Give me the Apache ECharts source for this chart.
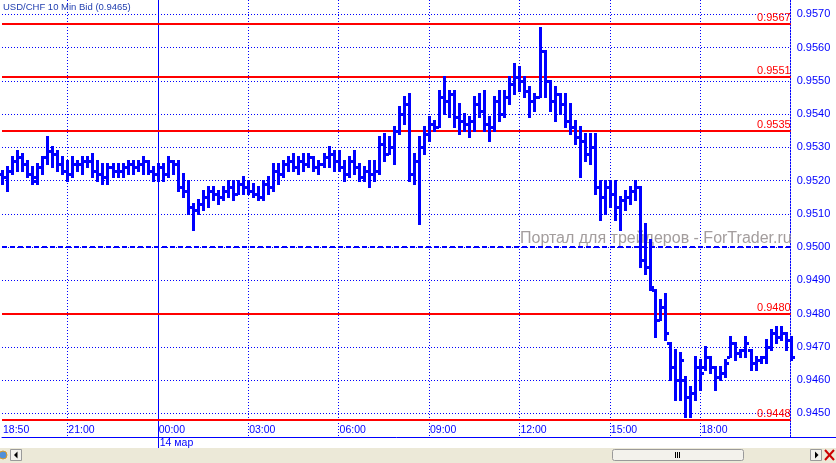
<!DOCTYPE html>
<html>
<head>
<meta charset="utf-8">
<script src="https://cdn.jsdelivr.net/npm/echarts@6.0.0/dist/echarts.min.js"></script>
<style>
html,body{margin:0;padding:0;background:#ffffff;}
#chart{width:836px;height:463px;}
</style>
</head>
<body>
<div id="chart"></div>
<script>
// ---------------- data ----------------
const titleText = 'USD/CHF 10 Min Bid (0.9465)';
const watermarkText = 'Портал для трейдеров - ForTrader.ru';

// 10-minute bars from 13 Mar 18:50 to 14 Mar 21:00
const barCount = 158;
const firstMinute = 18 * 60 + 50;
const firstDay = 13;
const categories = [];
for (let i = 0; i < barCount; i++) {
  const m = firstMinute + i * 10;
  const d = firstDay + Math.floor(m / 1440);
  const mm = m % 1440;
  categories.push(d + ' ' + String(Math.floor(mm / 60)).padStart(2, '0') + ':' + String(mm % 60).padStart(2, '0'));
}

// time tick labels (stamp -> label shown)
const timeTickStamps = ['13 18:50', '13 21:00', '14 00:00', '14 03:00', '14 06:00', '14 09:00', '14 12:00', '14 15:00', '14 18:00'];
const timeGridStamps = ['13 21:00', '14 03:00', '14 06:00', '14 09:00', '14 12:00', '14 15:00', '14 18:00', '14 21:00'];
const dayStamp = '14 00:00';
const dayLabel = '14 мар';

// price tick labels
const priceTicks = [0.9450, 0.9460, 0.9470, 0.9480, 0.9490, 0.9500, 0.9510, 0.9520, 0.9530, 0.9540, 0.9550, 0.9560, 0.9570];

// horizontal levels
const redLevels = [0.9567, 0.9551, 0.9535, 0.9480, 0.9448];
const dashedLevel = 0.9500;

// OHLC series
const openP = [
0.9522,0.9521,0.9523,0.9526,0.9527,0.9525,0.9522,0.9520,0.9524,0.9527,
0.9529,0.9528,0.9525,0.9523,0.9522,0.9525,0.9525,0.9526,0.9526,0.9523,
0.9522,0.9521,0.9524,0.9523,0.9523,0.9524,0.9525,0.9524,0.9525,0.9526,
0.9523,0.9522,0.9524,0.9522,0.9526,0.9525,0.9518,0.9517,0.9512,0.9511,
0.9513,0.9515,0.9517,0.9516,0.9515,0.9517,0.9518,0.9516,0.9519,0.9518,
0.9517,0.9516,0.9515,0.9519,0.9518,0.9523,0.9522,0.9525,0.9526,0.9524,
0.9526,0.9525,0.9527,0.9524,0.9525,0.9527,0.9528,0.9526,0.9524,0.9522,
0.9526,0.9524,0.9521,0.9523,0.9522,0.9523,0.9531,0.9528,0.9530,0.9535,
0.9540,0.9543,0.9522,0.9526,0.9530,0.9534,0.9537,0.9536,0.9545,0.9544,
0.9546,0.9539,0.9538,0.9537,0.9538,0.9543,0.9541,0.9537,0.9536,0.9544,
0.9540,0.9545,0.9549,0.9551,0.9550,0.9547,0.9544,0.9545,0.9559,0.9550,
0.9544,0.9546,0.9543,0.9538,0.9536,0.9533,0.9532,0.9528,0.9530,0.9518,
0.9515,0.9518,0.9516,0.9512,0.9514,0.9515,0.9517,0.9518,0.9496,0.9494,
0.9487,0.9478,0.9482,0.9471,0.9464,0.9460,0.9460,0.9455,0.9456,0.9464,
0.9464,0.9467,0.9464,0.9461,0.9462,0.9467,0.9471,0.9468,0.9469,0.9469,
0.9465,0.9466,0.9467,0.9470,0.9474,0.9473,0.9474,0.9472
];
const highP = [
0.9523,0.9524,0.9527,0.9529,0.9528,0.9526,0.9524,0.9525,0.9527,0.9533,
0.9530,0.9529,0.9527,0.9526,0.9527,0.9526,0.9527,0.9527,0.9528,0.9526,
0.9525,0.9525,0.9525,0.9525,0.9525,0.9526,0.9526,0.9526,0.9527,0.9526,
0.9524,0.9525,0.9525,0.9527,0.9526,0.9526,0.9522,0.9520,0.9513,0.9514,
0.9517,0.9518,0.9518,0.9517,0.9518,0.9520,0.9520,0.9520,0.9521,0.9520,
0.9519,0.9518,0.9520,0.9521,0.9525,0.9525,0.9526,0.9527,0.9528,0.9527,
0.9528,0.9528,0.9527,0.9526,0.9528,0.9530,0.9529,0.9529,0.9526,0.9527,
0.9529,0.9525,0.9524,0.9526,0.9526,0.9533,0.9534,0.9533,0.9536,0.9542,
0.9545,0.9546,0.9528,0.9533,0.9536,0.9539,0.9538,0.9547,0.9551,0.9547,
0.9547,0.9543,0.9540,0.9539,0.9545,0.9546,0.9547,0.9539,0.9545,0.9547,
0.9547,0.9551,0.9555,0.9554,0.9551,0.9548,0.9546,0.9566,0.9559,0.9550,
0.9548,0.9546,0.9546,0.9543,0.9538,0.9536,0.9534,0.9534,0.9534,0.9520,
0.9520,0.9520,0.9520,0.9515,0.9517,0.9518,0.9520,0.9518,0.9507,0.9502,
0.9487,0.9484,0.9486,0.9471,0.9469,0.9468,0.9461,0.9458,0.9467,0.9466,
0.9470,0.9467,0.9464,0.9464,0.9466,0.9473,0.9471,0.9469,0.9473,0.9469,
0.9467,0.9467,0.9472,0.9475,0.9476,0.9476,0.9474,0.9473
];
const lowP = [
0.9519,0.9517,0.9522,0.9523,0.9523,0.9521,0.9519,0.9519,0.9522,0.9525,
0.9524,0.9523,0.9522,0.9520,0.9521,0.9523,0.9522,0.9524,0.9521,0.9520,
0.9519,0.9519,0.9521,0.9521,0.9521,0.9522,0.9522,0.9523,0.9522,0.9522,
0.9520,0.9520,0.9520,0.9521,0.9522,0.9517,0.9515,0.9510,0.9505,0.9510,
0.9511,0.9512,0.9514,0.9513,0.9514,0.9515,0.9514,0.9516,0.9516,0.9516,
0.9515,0.9514,0.9514,0.9516,0.9517,0.9519,0.9521,0.9523,0.9523,0.9522,
0.9523,0.9524,0.9523,0.9522,0.9524,0.9524,0.9523,0.9523,0.9520,0.9521,
0.9522,0.9520,0.9520,0.9518,0.9520,0.9522,0.9526,0.9528,0.9525,0.9534,
0.9537,0.9520,0.9519,0.9507,0.9528,0.9532,0.9535,0.9536,0.9540,0.9539,
0.9536,0.9534,0.9535,0.9533,0.9535,0.9539,0.9535,0.9532,0.9535,0.9538,
0.9539,0.9543,0.9546,0.9547,0.9545,0.9539,0.9541,0.9545,0.9545,0.9541,
0.9538,0.9540,0.9536,0.9534,0.9531,0.9521,0.9526,0.9525,0.9516,0.9508,
0.9510,0.9512,0.9508,0.9505,0.9511,0.9513,0.9514,0.9494,0.9492,0.9487,
0.9473,0.9478,0.9472,0.9460,0.9454,0.9454,0.9449,0.9449,0.9454,0.9457,
0.9463,0.9462,0.9457,0.9460,0.9461,0.9467,0.9466,0.9467,0.9467,0.9463,
0.9463,0.9465,0.9465,0.9469,0.9471,0.9472,0.9469,0.9466
];
const closeP = [
0.9521,0.9523,0.9526,0.9527,0.9525,0.9522,0.9521,0.9524,0.9527,0.9529,
0.9528,0.9525,0.9523,0.9522,0.9525,0.9525,0.9526,0.9526,0.9523,0.9522,
0.9521,0.9524,0.9523,0.9523,0.9524,0.9525,0.9524,0.9525,0.9526,0.9523,
0.9522,0.9524,0.9522,0.9526,0.9525,0.9518,0.9517,0.9512,0.9511,0.9513,
0.9515,0.9517,0.9516,0.9515,0.9517,0.9518,0.9516,0.9519,0.9518,0.9517,
0.9516,0.9515,0.9519,0.9518,0.9523,0.9522,0.9525,0.9526,0.9524,0.9526,
0.9525,0.9527,0.9524,0.9525,0.9527,0.9528,0.9526,0.9524,0.9522,0.9526,
0.9524,0.9521,0.9523,0.9522,0.9523,0.9531,0.9528,0.9530,0.9535,0.9540,
0.9543,0.9522,0.9526,0.9530,0.9534,0.9537,0.9536,0.9545,0.9544,0.9546,
0.9539,0.9538,0.9537,0.9538,0.9543,0.9541,0.9537,0.9536,0.9544,0.9540,
0.9545,0.9549,0.9551,0.9550,0.9547,0.9544,0.9545,0.9559,0.9550,0.9544,
0.9546,0.9543,0.9538,0.9536,0.9533,0.9532,0.9528,0.9530,0.9518,0.9515,
0.9518,0.9516,0.9512,0.9514,0.9515,0.9517,0.9518,0.9496,0.9494,0.9488,
0.9478,0.9482,0.9474,0.9464,0.9460,0.9466,0.9455,0.9456,0.9464,0.9462,
0.9467,0.9464,0.9461,0.9462,0.9465,0.9471,0.9468,0.9469,0.9471,0.9465,
0.9466,0.9467,0.9470,0.9474,0.9473,0.9474,0.9472,0.9467
];

// ---------------- chart ----------------
const FONT = 'Liberation Sans';
const BLUE = '#0000ff';
const RED = '#ff0000';
const Y_MIN = 0.944287;
const Y_MAX = 0.957430;

const labelSet = new Set(timeTickStamps);
const gridSet = new Set(timeGridStamps);
const dayIndex = categories.indexOf(dayStamp);
const ohlc = categories.map((c, i) => [i, openP[i], highP[i], lowP[i], closeP[i]]);

function renderBar(params, api) {
  const idx = api.value(0);
  const o = api.coord([idx, api.value(1)]);
  const h = api.coord([idx, api.value(2)]);
  const l = api.coord([idx, api.value(3)]);
  const c = api.coord([idx, api.value(4)]);
  const x = Math.round(o[0]);
  const yh = Math.round(h[1]), yl = Math.round(l[1]);
  const yo = Math.round(o[1]), yc = Math.round(c[1]);
  const st = { fill: BLUE };
  return {
    type: 'group',
    children: [
      { type: 'rect', shape: { x: x - 1, y: yh - 1, width: 3, height: yl - yh + 2 }, style: st },
      { type: 'rect', shape: { x: x - 3, y: yo - 1, width: 3, height: 3 }, style: st },
      { type: 'rect', shape: { x: x + 1, y: yc - 1, width: 3, height: 3 }, style: st }
    ]
  };
}

function renderLevel(params, api) {
  const cs = params.coordSys;
  const v = api.value(1);
  const y = Math.round(api.coord([0, v])[1]);
  const x2 = cs.x + cs.width;
  return {
    type: 'group',
    children: [
      { type: 'rect', shape: { x: cs.x, y: y - 1, width: cs.width, height: 2 }, style: { fill: RED } },
      { type: 'text', x: x2, y: y - 1,
        style: { text: v.toFixed(4), fill: RED, font: '11px "Liberation Sans"', align: 'right', verticalAlign: 'bottom' } }
    ]
  };
}

function renderDashed(params, api) {
  const cs = params.coordSys;
  const y = Math.round(api.coord([0, api.value(1)])[1]);
  return {
    type: 'line',
    shape: { x1: cs.x, y1: y, x2: cs.x + cs.width, y2: y },
    style: { stroke: BLUE, lineWidth: 2, lineDash: [5, 3] }
  };
}

function renderDayLine(params, api) {
  const cs = params.coordSys;
  const x = Math.round(api.coord([api.value(0), Y_MIN])[0]);
  return {
    type: 'rect',
    shape: { x: x, y: cs.y, width: 1, height: cs.height + 11 },
    style: { fill: BLUE }
  };
}

const chart = echarts.init(document.getElementById('chart'), null, { renderer: 'canvas' });
chart.setOption({
  animation: false,
  backgroundColor: '#ffffff',
  textStyle: { fontFamily: FONT },
  title: {
    text: titleText, left: 3, top: 2, padding: 0,
    textStyle: { fontSize: 9.5, fontWeight: 'normal', color: '#2340b0', fontFamily: FONT }
  },
  grid: { left: -2.5, right: 45.3, top: 0, height: 437, containLabel: false },
  xAxis: [{
    type: 'category', data: categories, boundaryGap: false, position: 'bottom',
    axisLine: { show: true, lineStyle: { color: BLUE, width: 1 } },
    axisTick: { show: false },
    axisLabel: {
      inside: true, margin: 1, align: 'left', padding: [0, 0, 0, 1],
      color: BLUE, fontSize: 10.5, fontFamily: FONT,
      interval: (i, v) => labelSet.has(v),
      formatter: v => v.split(' ')[1]
    },
    splitLine: { show: true, interval: (i, v) => gridSet.has(v), lineStyle: { color: BLUE, width: 1, type: [1, 2] } }
  }, {
    type: 'category', data: categories, boundaryGap: false, position: 'bottom',
    axisLine: { show: false },
    axisTick: { show: false },
    axisLabel: {
      show: true, margin: 1, align: 'left', padding: [0, 0, 0, 2],
      color: BLUE, fontSize: 10.5, fontFamily: FONT,
      interval: (i, v) => v === dayStamp,
      formatter: () => dayLabel
    },
    splitLine: { show: false }
  }],
  yAxis: {
    type: 'value', position: 'right', min: Y_MIN, max: Y_MAX,
    axisLine: { show: true, lineStyle: { color: BLUE, width: 1, type: [1, 2] } },
    axisTick: { show: false, customValues: priceTicks },
    axisLabel: {
      customValues: priceTicks, formatter: v => v.toFixed(4),
      color: BLUE, fontSize: 11, fontFamily: FONT, margin: 6
    },
    splitLine: { show: true, lineStyle: { color: BLUE, width: 1, type: [1, 2] } }
  },
  graphic: [
    { type: 'text', left: 520, top: 231, z: 1, silent: true,
      style: { text: watermarkText, fill: '#a39d9d', font: '16px "Liberation Sans"' } },
    { type: 'line', silent: true, shape: { x1: 790, y1: 437.5, x2: 836, y2: 437.5 }, style: { stroke: BLUE, lineWidth: 1 } },
    { type: 'rect', silent: true, shape: { x: 0, y: 448, width: 836, height: 15 }, style: { fill: '#ece9d8' } },
    { type: 'rect', silent: true, shape: { x: 612.5, y: 449.5, width: 131, height: 11, r: 2 }, style: { fill: '#f3f2ec', stroke: '#9a9a9a', lineWidth: 1 } },
    { type: 'rect', silent: true, shape: { x: 675, y: 452, width: 1, height: 6 }, style: { fill: '#000' } },
    { type: 'rect', silent: true, shape: { x: 677, y: 452, width: 1, height: 6 }, style: { fill: '#000' } },
    { type: 'rect', silent: true, shape: { x: 679, y: 452, width: 1, height: 6 }, style: { fill: '#000' } },
    { type: 'rect', silent: true, shape: { x: 810.5, y: 449.5, width: 11, height: 11 }, style: { fill: '#f3f2ec', stroke: '#9a9a9a', lineWidth: 1 } },
    { type: 'polygon', silent: true, shape: { points: [[815, 451.5], [815, 458.5], [818.5, 455]] }, style: { fill: '#000' } },
    { type: 'rect', silent: true, shape: { x: 10.5, y: 449.5, width: 11, height: 11 }, style: { fill: '#f3f2ec', stroke: '#9a9a9a', lineWidth: 1 } },
    { type: 'polygon', silent: true, shape: { points: [[17.5, 451.5], [17.5, 458.5], [14, 455]] }, style: { fill: '#000' } },
    { type: 'line', silent: true, shape: { x1: 825, y1: 450, x2: 834, y2: 460 }, style: { stroke: '#cc0000', lineWidth: 2 } },
    { type: 'line', silent: true, shape: { x1: 834, y1: 450, x2: 825, y2: 460 }, style: { stroke: '#cc0000', lineWidth: 2 } },
    { type: 'circle', silent: true, shape: { cx: 3, cy: 455, r: 4 }, style: { fill: '#4f8fd8', stroke: '#d89a2a', lineWidth: 1 } }
  ],
  series: [{
    type: 'custom', name: 'dayLine', renderItem: renderDayLine,
    data: [[dayIndex]], encode: { x: 0 }, clip: false, silent: true, z: 2
  }, {
    type: 'custom', name: 'dashed', renderItem: renderDashed,
    data: [[0, dashedLevel]], encode: { x: 0, y: 1 }, silent: true, z: 2
  }, {
    type: 'custom', name: 'levels', renderItem: renderLevel,
    data: redLevels.map(v => [0, v]), encode: { x: 0, y: 1 }, clip: false, silent: true, z: 2
  }, {
    type: 'custom', name: 'USD/CHF', renderItem: renderBar,
    data: ohlc, encode: { x: 0, y: [1, 2, 3, 4] }, clip: false, z: 3
  }]
});
</script>
</body>
</html>
